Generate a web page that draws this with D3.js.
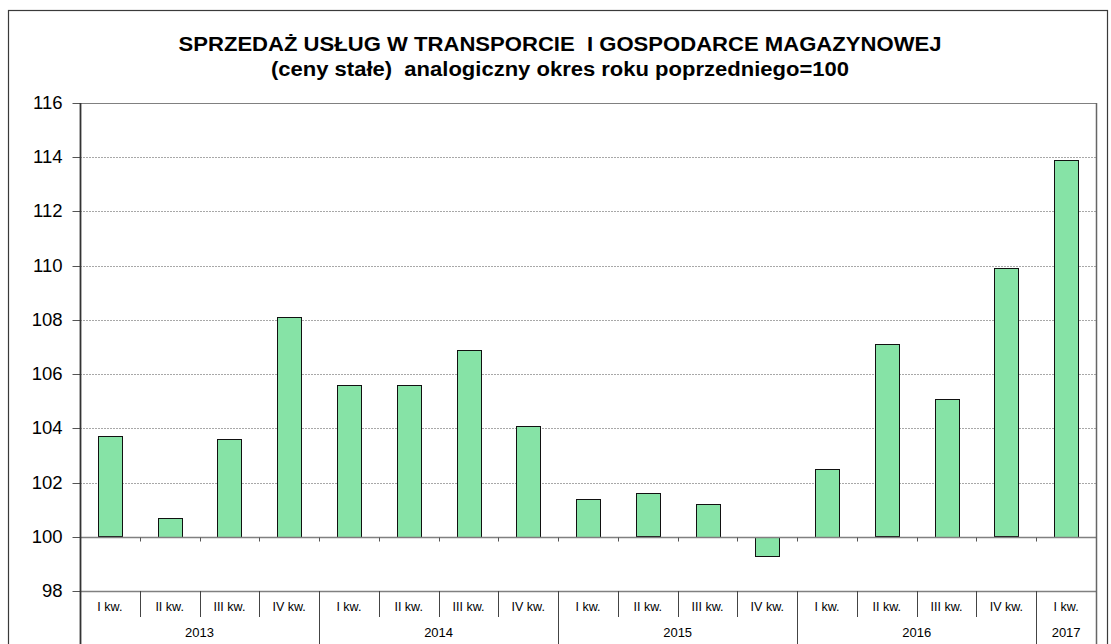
<!DOCTYPE html>
<html>
<head>
<meta charset="utf-8">
<script src="https://cdn.jsdelivr.net/npm/d3@7"></script>
<style>
  body { margin: 0; background: #fff; }
  svg { display: block; font-family: "Liberation Sans", Arial, sans-serif; }
  .grid line { stroke: #a8a8a8; stroke-dasharray: 2,1; }
  .title { white-space: pre; }
</style>
</head>
<body>
<div id="vis"></div>
<script>
const W = 1111, H = 644;
const margin = { top: 103, right: 15, bottom: 53, left: 80 };

// data
const years = ["2013", "2014", "2015", "2016", "2017"];
const quartersPerYear = [4, 4, 4, 4, 1];
const quarterNames = ["I kw.", "II kw.", "III kw.", "IV kw."];
const values = [103.7, 100.7, 103.6, 108.1, 105.6, 105.6, 106.9, 104.1,
                101.4, 101.6, 101.2, 99.3, 102.5, 107.1, 105.1, 109.9, 113.9];
const yTicks = [98, 100, 102, 104, 106, 108, 110, 112, 114, 116];
const baseValue = 100;

const titleLines = [
    "SPRZEDAŻ USŁUG W TRANSPORCIE  I GOSPODARCE MAGAZYNOWEJ",
    "(ceny stałe)  analogiczny okres roku poprzedniego=100"
];
const titleWidths = [763, 578];

// build period list (year + quarter)
const periods = [];
years.forEach((yr, i) => {
    for (let q = 0; q < quartersPerYear[i]; q++) {
        periods.push({ key: yr + " " + quarterNames[q], year: yr, quarter: quarterNames[q] });
    }
});
periods.forEach((p, i) => p.value = values[i]);

const plotBottom = 591;
const x = d3.scaleBand()
    .domain(periods.map(d => d.key))
    .range([80, 1096])
    .padding(0);

const y = d3.scaleLinear()
    .domain([98, 116])
    .range([plotBottom, margin.top]);

const svg = d3.select("#vis").append("svg")
    .attr("width", W)
    .attr("height", H);

// outer frame
svg.append("rect")
    .attr("x", 8.5).attr("y", 10.5)
    .attr("width", 1099).attr("height", 660)
    .attr("fill", "none")
    .attr("stroke", "#3a3a3a")
    .attr("stroke-width", 1.2);

// title
svg.selectAll(".title")
    .data(titleLines)
    .enter().append("text")
    .attr("class", "title")
    .attr("x", 560)
    .attr("y", (d, i) => 51 + i * 25)
    .attr("text-anchor", "middle")
    .attr("textLength", (d, i) => titleWidths[i])
    .attr("lengthAdjust", "spacingAndGlyphs")
    .style("font-weight", "bold")
    .style("font-size", "20px")
    .text(d => d);

// gridlines
svg.append("g")
    .attr("class", "grid")
    .selectAll("line")
    .data(yTicks.filter(t => t > 100 && t < 116))
    .enter().append("line")
    .attr("x1", 80).attr("x2", 1096)
    .attr("y1", d => Math.round(y(d)) + 0.5)
    .attr("y2", d => Math.round(y(d)) + 0.5);

// plot frame (top, bottom)
svg.append("line")
    .attr("x1", 80).attr("x2", 1096)
    .attr("y1", Math.round(y(116)) + 0.5).attr("y2", Math.round(y(116)) + 0.5)
    .attr("stroke", "#808080");
svg.append("line")
    .attr("x1", 80).attr("x2", 1096)
    .attr("y1", Math.round(y(98)) + 0.5).attr("y2", Math.round(y(98)) + 0.5)
    .attr("stroke", "#808080").attr("stroke-width", 1.5);

// bars
const barW = x.bandwidth() * 0.4;
svg.selectAll(".bar")
    .data(periods)
    .enter().append("rect")
    .attr("class", "bar")
    .attr("x", d => Math.round(x(d.key) + (x.bandwidth() - barW) / 2) + 0.5)
    .attr("y", d => Math.round(y(Math.max(d.value, baseValue))) + 0.5)
    .attr("width", Math.round(barW))
    .attr("height", d => Math.round(Math.abs(y(d.value) - y(baseValue))))
    .attr("fill", "#86e3a6")
    .attr("stroke", "#111")
    .attr("stroke-width", 1);

// base line at 100 with small ticks
const y100 = Math.round(y(baseValue)) + 0.5;
svg.append("line")
    .attr("x1", 80).attr("x2", 1096)
    .attr("y1", y100).attr("y2", y100)
    .attr("stroke", "#808080").attr("stroke-width", 1.5);
svg.selectAll(".btick")
    .data(periods.slice(1))
    .enter().append("line")
    .attr("x1", d => Math.round(x(d.key)) + 0.5)
    .attr("x2", d => Math.round(x(d.key)) + 0.5)
    .attr("y1", y100).attr("y2", y100 + 4)
    .attr("stroke", "#555");

// y axis
const yAxis = svg.append("g")
    .attr("transform", "translate(80.5,0)")
    .call(d3.axisLeft(y).tickValues(yTicks).tickSize(8).tickPadding(10).tickFormat(d3.format("d")));
yAxis.select(".domain").remove();
yAxis.selectAll(".tick line").attr("stroke", "#555");
yAxis.selectAll("text")
    .style("font-size", "18.5px")
    .style("font-family", "'Liberation Sans', Arial, sans-serif")
    .attr("fill", "#000");
yAxis.selectAll(".tick").attr("transform", d => `translate(0,${Math.round(y(d)) + 0.5})`);
svg.append("line")
    .attr("x1", 80.5).attr("x2", 80.5)
    .attr("y1", margin.top).attr("y2", H)
    .attr("stroke", "#333").attr("stroke-width", 1.8);

// category axis below the plot
const groupStarts = [];
let idx = 0;
quartersPerYear.forEach(n => { groupStarts.push(idx); idx += n; });

svg.selectAll(".qsep")
    .data(periods.slice(1))
    .enter().append("line")
    .attr("x1", d => Math.round(x(d.key)) + 0.5)
    .attr("x2", d => Math.round(x(d.key)) + 0.5)
    .attr("y1", plotBottom)
    .attr("y2", (d, i) => groupStarts.includes(i + 1) ? H : 617)
    .attr("stroke", "#444");
svg.append("line")
    .attr("x1", 1096.5).attr("x2", 1096.5)
    .attr("y1", margin.top).attr("y2", H)
    .attr("stroke", "#666").attr("stroke-width", 1.5);

svg.selectAll(".qlabel")
    .data(periods)
    .enter().append("text")
    .attr("x", d => x(d.key) + x.bandwidth() / 2)
    .attr("y", 611)
    .attr("text-anchor", "middle")
    .style("font-size", "12.5px")
    .text(d => d.quarter);

svg.selectAll(".ylabel")
    .data(years)
    .enter().append("text")
    .attr("x", (d, i) => {
        const first = periods[groupStarts[i]].key;
        return x(first) + x.bandwidth() * quartersPerYear[i] / 2;
    })
    .attr("y", 637)
    .attr("text-anchor", "middle")
    .style("font-size", "13px")
    .text(d => d);
</script>
</body>
</html>
